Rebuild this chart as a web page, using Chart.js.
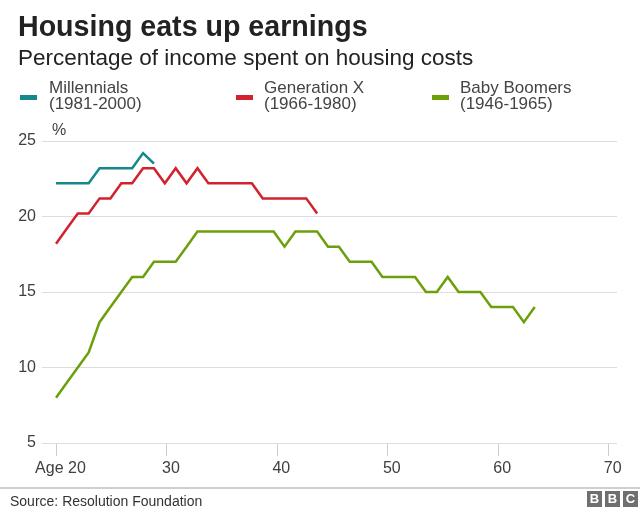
<!DOCTYPE html>
<html>
<head>
<meta charset="utf-8">
<script src="https://cdn.jsdelivr.net/npm/chart.js@4/dist/chart.umd.min.js"></script>
<style>
  html, body { margin: 0; padding: 0; background: #fff; }
  body { width: 640px; height: 520px; position: relative; overflow: hidden; font-family: "Liberation Sans", Arial, Helvetica, sans-serif; }
  #chartWrap { position: absolute; left: 0; top: 0; width: 640px; height: 520px; }
  .abs { position: absolute; white-space: nowrap; }
  #title { left: 18px; top: 12px; font-size: 28.6px; line-height: 28px; font-weight: bold; color: #222; }
  #subtitle { left: 18px; top: 47px; font-size: 22.5px; line-height: 22.5px; color: #222; }
  .legItem { position: absolute; top: 80px; }
  .swatch { position: absolute; top: 15px; width: 17px; height: 5px; }
  .legText { position: absolute; top: 0; font-size: 17px; line-height: 16px; color: #444; white-space: nowrap; }
  #pct { left: 52px; top: 122px; font-size: 16px; line-height: 16px; color: #404040; }
  #sep { left: 0; top: 487px; width: 640px; height: 2px; background: #d0d0d0; }
  #source { left: 10px; top: 494px; font-size: 14px; line-height: 14px; color: #333; }
  .bbc { position: absolute; top: 491px; width: 15px; height: 16px; background: #6f6f6f; color: #fff; font-weight: bold; font-size: 13px; line-height: 16px; text-align: center; }
</style>
</head>
<body>
<div id="chartWrap"><canvas id="c" width="640" height="520"></canvas></div>
<div id="title" class="abs">Housing eats up earnings</div>
<div id="subtitle" class="abs">Percentage of income spent on housing costs</div>
<div id="legend"></div>
<div id="pct" class="abs">%</div>
<div id="sep" class="abs"></div>
<div id="source" class="abs">Source: Resolution Foundation</div>
<div class="bbc" style="left:587px">B</div>
<div class="bbc" style="left:605px">B</div>
<div class="bbc" style="left:623px">C</div>
<script>
// ---- data ----
const seriesNames = ['Millennials', 'Generation X', 'Baby Boomers'];
const seriesYears = ['(1981-2000)', '(1966-1980)', '(1946-1965)'];
const seriesColors = ['#14888b', '#d2222d', '#6ba00a'];

const millennialAges = [20, 21, 22, 23, 24, 25, 26, 27, 28, 29];
const millennialValues = [22.2, 22.2, 22.2, 22.2, 23.2, 23.2, 23.2, 23.2, 24.2, 23.5];

const genXAges = [20, 21, 22, 23, 24, 25, 26, 27, 28, 29, 30, 31, 32, 33, 34, 35, 36, 37, 38, 39, 40, 41, 42, 43, 44];
const genXValues = [18.2, 19.2, 20.2, 20.2, 21.2, 21.2, 22.2, 22.2, 23.2, 23.2, 22.2, 23.2, 22.2, 23.2, 22.2, 22.2, 22.2, 22.2, 22.2, 21.2, 21.2, 21.2, 21.2, 21.2, 20.2];

const boomerAges = [20, 21, 22, 23, 24, 25, 26, 27, 28, 29, 30, 31, 32, 33, 34, 35, 36, 37, 38, 39, 40, 41, 42, 43, 44, 45, 46, 47, 48, 49, 50, 51, 52, 53, 54, 55, 56, 57, 58, 59, 60, 61, 62, 63, 64];
const boomerValues = [8, 9, 10, 11, 13, 14, 15, 16, 16, 17, 17, 17, 18, 19, 19, 19, 19, 19, 19, 19, 19, 18, 19, 19, 19, 18, 18, 17, 17, 17, 16, 16, 16, 16, 15, 15, 16, 15, 15, 15, 14, 14, 14, 13, 14];

const xTickValues = [20, 30, 40, 50, 60, 70];
const xTickLabels = ['Age 20', '30', '40', '50', '60', '70'];
const yTickValues = [5, 10, 15, 20, 25];

// ---- legend (HTML) ----
const legendX = [20, 236, 432];
const legend = document.getElementById('legend');
seriesNames.forEach((name, i) => {
  const item = document.createElement('div');
  item.className = 'legItem';
  item.style.left = legendX[i] + 'px';
  const sw = document.createElement('div');
  sw.className = 'swatch';
  sw.style.left = '0px';
  sw.style.background = seriesColors[i];
  const tx = document.createElement('div');
  tx.className = 'legText';
  tx.style.left = (i === 0 ? 29 : 28) + 'px';
  tx.innerHTML = name + '<br>' + seriesYears[i];
  item.appendChild(sw);
  item.appendChild(tx);
  legend.appendChild(item);
});

function toPoints(ages, vals) {
  return ages.map((a, i) => ({ x: a, y: vals[i] }));
}

const seriesData = [
  toPoints(millennialAges, millennialValues),
  toPoints(genXAges, genXValues),
  toPoints(boomerAges, boomerValues)
];

const datasets = seriesNames.map((name, i) => ({
  label: name,
  data: seriesData[i],
  xAxisID: 'xd',
  yAxisID: 'y',
  borderColor: seriesColors[i],
  backgroundColor: seriesColors[i],
  borderWidth: 2.5,
  pointRadius: 0,
  pointHoverRadius: 0,
  tension: 0,
  fill: false,
  borderJoinStyle: 'miter',
  borderCapStyle: 'butt'
})).reverse();

const tickFont = { family: '"Liberation Sans", Arial, sans-serif', size: 16 };

new Chart(document.getElementById('c'), {
  type: 'line',
  data: { datasets },
  options: {
    responsive: false,
    devicePixelRatio: 1,
    animation: false,
    events: [],
    layout: { padding: { top: 141, right: 23, bottom: 37, left: 0 } },
    plugins: { legend: { display: false }, tooltip: { enabled: false }, title: { display: false } },
    scales: {
      xd: {
        type: 'linear',
        display: false,
        min: 18.71,
        max: 71.56
      },
      x: {
        type: 'linear',
        position: 'bottom',
        min: 18.69,
        max: 70.75,
        afterBuildTicks: (axis) => { axis.ticks = xTickValues.map(v => ({ value: v })); },
        afterFit: (axis) => { axis.height = 40; },
        border: { display: false },
        grid: { drawOnChartArea: false, drawTicks: true, tickLength: 13, color: '#cccccc', lineWidth: 1 },
        ticks: {
          autoSkip: false,
          maxRotation: 0,
          padding: 3,
          labelOffset: 4,
          color: '#404040',
          font: tickFont,
          callback: (v) => { const k = xTickValues.indexOf(v); return k >= 0 ? xTickLabels[k] : ''; }
        }
      },
      y: {
        type: 'linear',
        min: 5,
        max: 25,
        afterBuildTicks: (axis) => { axis.ticks = yTickValues.map(v => ({ value: v })); },
        afterFit: (axis) => { axis.width = 42; },
        border: { display: false },
        grid: { color: '#dddddd', lineWidth: 1, drawTicks: false },
        ticks: { padding: 6, color: '#404040', font: tickFont }
      }
    }
  }
});
</script>
</body>
</html>
